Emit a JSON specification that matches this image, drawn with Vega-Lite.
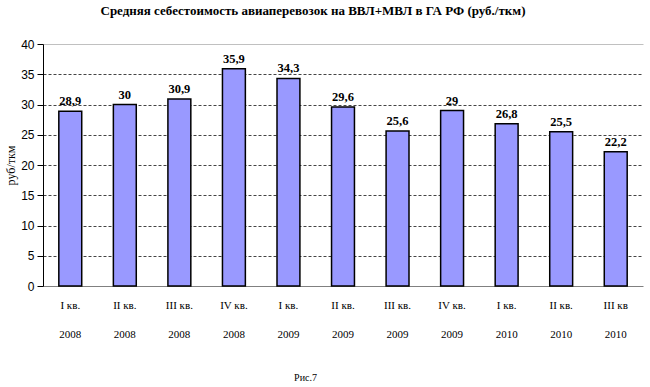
{
  "$schema": "https://vega.github.io/schema/vega-lite/v6.json",
  "width": 600,
  "height": 242,
  "autosize": {"type": "none"},
  "padding": {"left": 43, "top": 44, "right": 7, "bottom": 101},
  "background": "white",
  "title": {
    "text": "Средняя себестоимость авиаперевозок на ВВЛ+МВЛ в ГА РФ (руб./ткм)",
    "font": "Liberation Serif",
    "fontSize": 13,
    "fontWeight": "bold",
    "color": "black",
    "frame": "group",
    "anchor": "middle",
    "dx": -30,
    "offset": 20
  },
  "data": {
    "values": [
      {"q": "I кв.|2008", "v": 28.9, "lbl": "28,9"},
      {"q": "II кв.|2008", "v": 30, "lbl": "30"},
      {"q": "III кв.|2008", "v": 30.9, "lbl": "30,9"},
      {"q": "IV кв.|2008", "v": 35.9, "lbl": "35,9"},
      {"q": "I кв.|2009", "v": 34.3, "lbl": "34,3"},
      {"q": "II кв.|2009", "v": 29.6, "lbl": "29,6"},
      {"q": "III кв.|2009", "v": 25.6, "lbl": "25,6"},
      {"q": "IV кв.|2009", "v": 29, "lbl": "29"},
      {"q": "I кв.|2010", "v": 26.8, "lbl": "26,8"},
      {"q": "II кв.|2010", "v": 25.5, "lbl": "25,5"},
      {"q": "III кв|2010", "v": 22.2, "lbl": "22,2"}
    ]
  },
  "encoding": {
    "x": {
      "field": "q",
      "type": "nominal",
      "sort": null,
      "scale": {"paddingInner": 0.58, "paddingOuter": 0.29},
      "axis": {
        "title": "Рис.7",
        "titleFont": "Liberation Serif",
        "titleFontSize": 10,
        "titleFontWeight": "normal",
        "titleColor": "black",
        "titleX": 262,
        "titleY": 86,
        "labelExpr": "split(datum.value, '|')",
        "labelAngle": 0,
        "labelFont": "Liberation Serif",
        "labelFontSize": 11,
        "labelColor": "black",
        "labelLineHeight": 29,
        "labelPadding": 13,
        "ticks": false,
        "domainColor": "#808080",
        "grid": false
      }
    },
    "y": {
      "field": "v",
      "type": "quantitative",
      "scale": {"domain": [0, 40], "nice": false},
      "axis": {
        "title": "руб/ткм",
        "titleFont": "Liberation Serif",
        "titleFontSize": 12,
        "titleFontWeight": "normal",
        "titleColor": "black",
        "titlePadding": 3,
        "values": [0, 5, 10, 15, 20, 25, 30, 35, 40],
        "labelFont": "Liberation Sans",
        "labelFontSize": 12,
        "labelColor": "black",
        "labelPadding": 3,
        "tickColor": "black",
        "tickSize": 6,
        "domainColor": "black",
        "grid": true,
        "gridColor": {"condition": {"test": "datum.value == 40", "value": "#c0c0c0"}, "value": "#444444"},
        "gridDash": {"condition": {"test": "datum.value == 40", "value": []}, "value": [3, 2]},
        "gridOpacity": {"condition": {"test": "datum.value == 0", "value": 0}, "value": 1}
      }
    }
  },
  "layer": [
    {
      "mark": {"type": "bar", "fill": "#9999ff", "stroke": "black", "strokeWidth": 1.5}
    },
    {
      "mark": {"type": "text", "baseline": "bottom", "dy": -3, "font": "Liberation Serif", "fontSize": 12.5, "fontWeight": "bold", "color": "black"},
      "encoding": {"text": {"field": "lbl"}}
    }
  ],
  "config": {"view": {"stroke": null}}
}
